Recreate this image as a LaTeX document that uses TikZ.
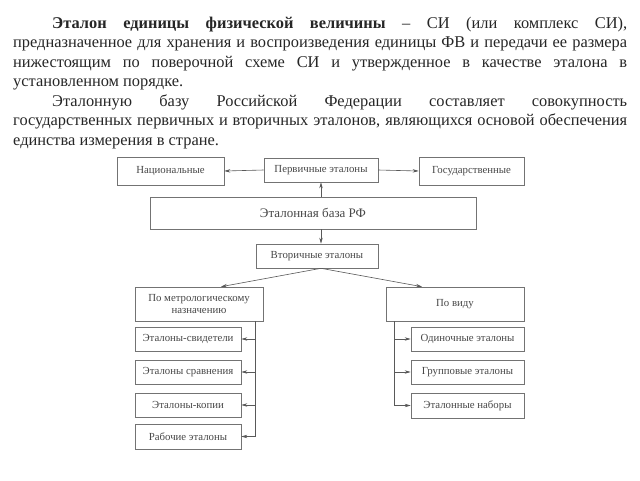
\documentclass[tikz,border=0pt]{standalone}
\usepackage{fontspec}
\setmainfont{Liberation Serif}
\usetikzlibrary{arrows.meta,calc}
\begin{document}
\begin{tikzpicture}[x=1pt,y=-1pt,
	box/.style={draw=black!55, line width=0.6pt, text=black!72, inner sep=0pt, align=center,
		font=\fontsize{10.8}{12.5}\selectfont},
	arr/.style={draw=black!65, line width=0.6pt, -{Stealth[length=6pt,width=3.4pt]}},
	ln/.style={draw=black!65, line width=0.6pt}]
	\useasboundingbox[fill=white] (0,0) rectangle (640,480);
	% text above the scheme
	\node[anchor=north west, inner sep=0pt, text width=614pt, align=justify, text=black!85,
		font=\fontsize{16.4}{19.5}\selectfont] (txt) at (13,16.5)
		{\hyphenpenalty=10000\parindent=39pt\indent
		\textbf{Эталон единицы физической величины} – СИ (или комплекс СИ),\linebreak
		предназначенное для хранения и воспроизведения единицы ФВ и передачи ее размера\linebreak
		нижестоящим по поверочной схеме СИ и утвержденное в качестве эталона в\linebreak
		установленном порядке.\par
		\indent Эталонную базу Российской Федерации составляет совокупность\linebreak
		государственных первичных и вторичных эталонов, являющихся основой обеспечения\linebreak
		единства измерения в стране.\par};
	% upper part
	\node[box, minimum width=107pt, minimum height=28pt] (nat)  at (170.5,171) {Национальные};
	\node[box, minimum width=114pt, minimum height=24pt] (perv) at (321,170)   {Первичные эталоны};
	\node[box, minimum width=105pt, minimum height=28pt] (gos)  at (471.5,171) {Государственные};
	\node[box, minimum width=326pt, minimum height=32pt, font=\fontsize{13}{15}\selectfont] (baza) at (313,213) {Эталонная база РФ};
	\node[box, minimum width=122pt, minimum height=24pt] (vtor) at (317,256)   {Вторичные эталоны};
	% two groups
	\node[box, minimum width=128pt, minimum height=34pt] (metr) at (199,304)   {По метрологическому\\назначению};
	\node[box, minimum width=138pt, minimum height=34pt] (vid)  at (455,304)   {По виду};
	\node[box, minimum width=106pt, minimum height=24pt] (svid) at (188,339)   {Эталоны-свидетели};
	\node[box, minimum width=106pt, minimum height=24pt] (srav) at (188,372)   {Эталоны сравнения};
	\node[box, minimum width=106pt, minimum height=24pt] (kop)  at (188,405)   {Эталоны-копии};
	\node[box, minimum width=106pt, minimum height=25pt] (rab)  at (188,436.5) {Рабочие эталоны};
	\node[box, minimum width=113pt, minimum height=24pt] (odin) at (467.5,339) {Одиночные эталоны};
	\node[box, minimum width=113pt, minimum height=24pt] (grup) at (467.5,372) {Групповые эталоны};
	\node[box, minimum width=113pt, minimum height=25pt] (nab)  at (467.5,405.5) {Эталонные наборы};

	\draw[arr] (perv.west) -- (nat.east);
	\draw[arr] (perv.east) -- (gos.west);
	\draw[arr] (baza.north -| perv.south) -- (perv.south);
	\draw[arr] (baza.south -| perv.south) -- (vtor.north -| perv.south);
	\coordinate (fork) at (vtor.south -| perv.south);
	\draw[arr] (fork) -- ($(metr.north)+(22,0)$);
	\draw[arr] (fork) -- ($(vid.north)+(-33,0)$);
	% side buses
	\coordinate (lbus) at ($(metr.south)+(56,0)$);
	\coordinate (rbus) at ($(vid.south)+(-61,0)$);
	\draw[ln] (lbus) -- (lbus |- rab.east);
	\draw[ln] (rbus) -- (rbus |- nab.west);
	\foreach \b in {svid,srav,kop,rab}
	{	\draw[arr] (lbus |- \b.east) -- (\b.east);
	}
	\foreach \b in {odin,grup,nab}
	{	\draw[arr] (rbus |- \b.west) -- (\b.west);
	}
\end{tikzpicture}
\end{document}
